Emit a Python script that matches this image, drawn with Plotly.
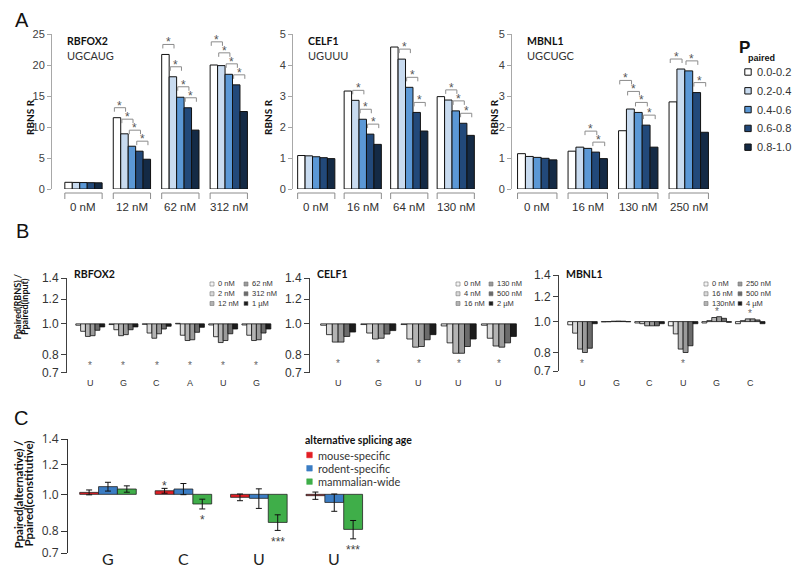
import math
import plotly.graph_objects as go

W, H = 800, 574

# ======================= DATA =======================
P_BINS = ["0.0-0.2", "0.2-0.4", "0.4-0.6", "0.6-0.8", "0.8-1.0"]

# Panel A : RBNS R per concentration (rows) and P_paired bin (columns)
RBFOX2_CONC = ["0 nM", "12 nM", "62 nM", "312 nM"]
RBFOX2_R = [
    [1.08, 1.06, 1.04, 1.02, 1.00],
    [11.5, 8.9, 6.9, 6.1, 4.8],
    [21.7, 18.1, 14.8, 13.1, 9.5],
    [20.0, 19.9, 18.5, 16.8, 12.5],
]
RBFOX2_SIG = [(1, 0), (1, 1), (1, 2), (1, 3), (2, 0), (2, 1), (2, 2), (2, 3),
              (3, 0), (3, 1), (3, 2), (3, 3)]

CELF1_CONC = ["0 nM", "16 nM", "64 nM", "130 nM"]
CELF1_R = [
    [1.08, 1.07, 1.04, 1.01, 0.98],
    [3.16, 2.86, 2.25, 1.77, 1.44],
    [4.58, 4.19, 3.28, 2.47, 1.87],
    [2.98, 2.87, 2.52, 2.12, 1.73],
]
CELF1_SIG = [(1, 1), (1, 2), (1, 3), (2, 1), (2, 2), (2, 3), (3, 1), (3, 2), (3, 3)]

MBNL1_CONC = ["0 nM", "16 nM", "130 nM", "250 nM"]
MBNL1_R = [
    [1.14, 1.05, 1.02, 0.99, 0.94],
    [1.22, 1.35, 1.31, 1.19, 0.98],
    [1.88, 2.58, 2.47, 2.06, 1.35],
    [2.81, 3.87, 3.81, 3.11, 1.83],
]
MBNL1_SIG = [(1, 2), (1, 3), (2, 0), (2, 1), (2, 2), (2, 3), (3, 0), (3, 2), (3, 3)]

A_TICKS_RBFOX2 = [0, 5, 10, 15, 20, 25]
A_TICKS_SMALL = [0, 1, 2, 3, 4, 5]

# Panel B : Ppaired(RBNS)/Ppaired(input), rows = motif position, cols = concentration
RBFOX2_B_CONC = ["0 nM", "2 nM", "12 nM", "62 nM", "312 nM", "1 µM"]
RBFOX2_B_POS = ["U", "G", "C", "A", "U", "G"]
RBFOX2_B = [
    [0.990, 0.947, 0.912, 0.917, 0.954, 0.978],
    [0.995, 0.958, 0.917, 0.924, 0.958, 0.978],
    [0.997, 0.935, 0.900, 0.930, 0.963, 0.983],
    [1.004, 0.920, 0.885, 0.890, 0.940, 0.975],
    [0.992, 0.910, 0.872, 0.885, 0.930, 0.963],
    [0.992, 0.920, 0.885, 0.890, 0.935, 0.963],
]
RBFOX2_B_SIG = ["below", "below", "below", "below", "below", "below"]

CELF1_B_CONC = ["0 nM", "4 nM", "16 nM", "130 nM", "500 nM", "2 µM"]
CELF1_B_POS = ["U", "G", "U", "U", "U"]
CELF1_B = [
    [0.990, 0.924, 0.875, 0.875, 0.912, 0.942],
    [0.995, 0.935, 0.895, 0.900, 0.928, 0.952],
    [0.995, 0.895, 0.843, 0.847, 0.890, 0.924],
    [0.985, 0.870, 0.806, 0.806, 0.847, 0.895],
    [0.990, 0.900, 0.850, 0.843, 0.870, 0.912],
]
CELF1_B_SIG = ["below", "below", "below", "below", "below"]

MBNL1_B_CONC = ["0 nM", "16 nM", "130nM", "250 nM", "500 nM", "4 µM"]
MBNL1_B_POS = ["U", "G", "C", "U", "G", "C"]
MBNL1_B = [
    [0.977, 0.920, 0.820, 0.800, 0.825, 0.985],
    [0.998, 0.999, 1.003, 1.004, 1.003, 0.999],
    [0.990, 0.985, 0.970, 0.970, 0.970, 0.985],
    [0.970, 0.915, 0.820, 0.800, 0.840, 0.985],
    [0.990, 1.007, 1.030, 1.036, 1.024, 0.995],
    [0.985, 1.007, 1.020, 1.020, 1.012, 0.985],
]
MBNL1_B_SIG = ["below", "", "", "below", "above", "above"]

B_TICKS = [0.7, 0.8, 1.0, 1.2, 1.4]
B_TICKTEXT = ["0.7", "0.8", "1.0", "1.2", "1.4"]

# Panel C : Ppaired(alternative)/Ppaired(constitutive)
C_POS = ["G", "C", "U", "U"]
C_SERIES = ["mouse-specific", "rodent-specific", "mammalian-wide"]
C_MOUSE = [1.012, 1.022, 0.982, 0.992]
C_MOUSE_ERR = [0.015, 0.015, 0.020, 0.022]
C_RODENT = [1.048, 1.033, 0.976, 0.952]
C_RODENT_ERR = [0.028, 0.035, 0.058, 0.050]
C_MAMMAL = [1.033, 0.943, 0.843, 0.808]
C_MAMMAL_ERR = [0.020, 0.028, 0.040, 0.045]
C_SIG = [(1, 0, "*"), (1, 2, "*"), (2, 2, "***"), (3, 2, "***")]

# ======================= STYLE =======================
A_COLORS = ["#ffffff", "#c8dbf0", "#5b98d6", "#22497a", "#142a45"]
B_COLORS = ["#f4f4f4", "#d9d9d9", "#b3b3b3", "#9a9a9a", "#6b6b6b", "#1c1c1c"]
C_COLORS = ["#e31e24", "#3b7dc4", "#3fae49"]
SANS = "Liberation Sans, Arial, sans-serif"
HUM = "Lato, Open Sans, sans-serif"
PAGE_OFFSET = 8  # default page body margin around the plot div

fig = go.Figure()
LAYOUT = {}
ANN = []
SHAPES = []


def fx(px):
    return (px - PAGE_OFFSET) / W


def fy(py):
    return 1.0 - (py - PAGE_OFFSET) / H


def make_axes(k, xpx, ypx, xr, yr, log=False, tickvals=None, ticktext=None,
              linecolor="#999", tickfont=None, ticklen=4):
    s = "" if k == 1 else str(k)
    yr_int = [math.log10(yr[0]), math.log10(yr[1])] if log else list(yr)
    LAYOUT["xaxis" + s] = dict(domain=[fx(xpx[0]), fx(xpx[1])], range=list(xr),
                               anchor="y" + s, visible=False, fixedrange=True,
                               automargin=False)
    LAYOUT["yaxis" + s] = dict(domain=[fy(ypx[1]), fy(ypx[0])], range=yr_int,
                               type="log" if log else "linear", anchor="x" + s,
                               showline=True, linecolor=linecolor, linewidth=1,
                               ticks="outside", ticklen=ticklen, tickcolor=linecolor,
                               tickwidth=1, tickvals=tickvals, ticktext=ticktext,
                               tickfont=tickfont, showgrid=False, zeroline=False,
                               fixedrange=True, automargin=False)
    return dict(x="x" + s, y="y" + s, xl=xpx[0], xrp=xpx[1], xr=list(xr),
                yt=ypx[0], yb=ypx[1], yr=yr_int, log=log)


def x2px(x, ax):
    return ax["xl"] + (x - ax["xr"][0]) / (ax["xr"][1] - ax["xr"][0]) * (ax["xrp"] - ax["xl"])


def y2px(v, ax):
    t = math.log10(v) if ax["log"] else v
    r0, r1 = ax["yr"]
    return ax["yb"] - (t - r0) / (r1 - r0) * (ax["yb"] - ax["yt"])


def px2y(py, ax):
    r0, r1 = ax["yr"]
    t = r0 + (ax["yb"] - py) / (ax["yb"] - ax["yt"]) * (r1 - r0)
    return 10 ** t if ax["log"] else t


def text(px, py, s, size, family=SANS, color="#222", bold=False, xanchor="center",
         yanchor="middle", angle=0, align="center"):
    ANN.append(dict(x=fx(px), y=fy(py), xref="paper", yref="paper",
                    text=("<b>%s</b>" % s) if bold else s, showarrow=False,
                    xanchor=xanchor, yanchor=yanchor, textangle=angle, align=align,
                    font=dict(size=size, family=family, color=color)))


def center(n, gw, g, j):
    return g - gw / 2 + gw / n * (j + 0.5)


def square(cx, cy, half, color, line="#222", lw=0.8):
    SHAPES.append(dict(type="rect", xref="paper", yref="paper",
                       x0=fx(cx - half), x1=fx(cx + half), y0=fy(cy + half), y1=fy(cy - half),
                       fillcolor=color, line=dict(color=line, width=lw), layer="above"))


# ======================= PANEL A =======================
def panel_a(k, xpx, xr, yr, ticks, conc, vals, sig, name, motif, gw, ylab_x):
    ax = make_axes(k, xpx, (34, 189), xr, yr, tickvals=ticks, ticktext=[str(t) for t in ticks],
                   linecolor="#a8a8a8",
                   tickfont=dict(family=SANS, size=11, color="#404040"), ticklen=4)
    n = len(P_BINS)
    w = gw / n
    for j in range(n):
        fig.add_trace(go.Bar(
            x=[center(n, gw, g, j) for g in range(len(conc))],
            y=[vals[g][j] for g in range(len(conc))],
            width=w, name=P_BINS[j], xaxis=ax["x"], yaxis=ax["y"], hoverinfo="skip",
            marker=dict(color=A_COLORS[j], line=dict(color="#111111", width=1))))
    # concentration brackets + labels
    for g, lab in enumerate(conc):
        x0 = fx(x2px(g - gw / 2, ax))
        x1 = fx(x2px(g + gw / 2, ax))
        SHAPES.append(dict(type="path", xref="paper", yref="paper",
                           path="M %f,%f L %f,%f L %f,%f L %f,%f" % (
                               x0, fy(199), x0, fy(193), x1, fy(193), x1, fy(199)),
                           line=dict(color="#8c8c8c", width=1)))
        text(x2px(g, ax), 206.5, lab, 11.5, color="#303030")
    # significance brackets
    groups = {}
    for g, i in sig:
        groups.setdefault(g, []).append(i)
    bx, by = [], []
    for g, idxs in groups.items():
        ypx = {}
        for i in sorted(idxs, reverse=True):
            top = min(y2px(vals[g][i], ax), y2px(vals[g][i + 1], ax))
            yy = top - 10
            if (i + 1) in ypx:
                yy = min(yy, ypx[i + 1] - 11)
            ypx[i] = yy
            xa = center(n, gw, g, i) - 0.35 * w
            xb = center(n, gw, g, i + 1) + 0.15 * w
            yl = px2y(yy, ax)
            yleg = px2y(yy + 4, ax)
            bx += [xa, xa, xb, xb, None]
            by += [yleg, yl, yl, yleg, None]
            ANN.append(dict(x=(xa + xb) / 2, y=px2y(yy - 2, ax), xref=ax["x"], yref=ax["y"],
                            text="*", showarrow=False, xanchor="center", yanchor="middle",
                            font=dict(size=12, family=SANS, color="#555")))
    fig.add_trace(go.Scatter(x=bx, y=by, mode="lines", xaxis=ax["x"], yaxis=ax["y"],
                             line=dict(color="#8c8c8c", width=1), hoverinfo="skip"))
    # names
    text(xpx[0] + 13, 41, name, 10.5, family=HUM, bold=True, xanchor="left", color="#111")
    text(xpx[0] + 13, 56, motif, 11, family=HUM, xanchor="left", color="#333")
    text(ylab_x, 117, "RBNS R", 10, family=HUM, bold=True, angle=-90, color="#111")
    return ax


panel_a(1, (52, 253), (-0.65, 3.5), (0, 25), A_TICKS_RBFOX2, RBFOX2_CONC, RBFOX2_R,
        RBFOX2_SIG, "RBFOX2", "UGCAUG", 0.77, 30)
panel_a(2, (293, 479), (-0.5, 3.5), (0, 5), A_TICKS_SMALL, CELF1_CONC, CELF1_R,
        CELF1_SIG, "CELF1", "UGUUU", 0.8, 268)
panel_a(3, (512, 714), (-0.5, 3.5), (0, 5), A_TICKS_SMALL, MBNL1_CONC, MBNL1_R,
        MBNL1_SIG, "MBNL1", "UGCUGC", 0.78, 494)

# legend A
text(737, 48, "P", 17, bold=True, xanchor="left", color="#111")
text(746, 58, "paired", 9, bold=True, xanchor="left", color="#111")
for j, lab in enumerate(P_BINS):
    yy = 72 + j * 18.8
    square(748, yy, 3.2, A_COLORS[j], line="#111", lw=1)
    text(755, yy, lab, 11, xanchor="left", color="#333")


# ======================= PANEL B =======================
B_LEG_FONT = 7.5
B_LEG_STEP = B_LEG_FONT * 1.3  # plotly multi-line spacing


def panel_b(k, xpx, ypx, xr, conc, pos, vals, sig, name, gw, leg_x, star_py):
    ax = make_axes(k, xpx, ypx, xr, (0.7, 1.4), log=True, tickvals=B_TICKS,
                   ticktext=B_TICKTEXT, linecolor="#404040",
                   tickfont=dict(family=SANS, size=12, color="#333"), ticklen=5)
    n = len(conc)
    w = gw / n
    for j in range(n):
        fig.add_trace(go.Bar(
            x=[center(n, gw, g, j) for g in range(len(pos))],
            y=[vals[g][j] - 1.0 for g in range(len(pos))], base=1.0,
            width=w, name=conc[j], xaxis=ax["x"], yaxis=ax["y"], hoverinfo="skip",
            marker=dict(color=B_COLORS[j], line=dict(color="#111111", width=0.8))))
    for g, lab in enumerate(pos):
        text(x2px(g, ax), 383, lab, 9, color="#333")
        if sig[g] == "below":
            text(x2px(g, ax), star_py + 3, "*", 10, color="#666")
        elif sig[g] == "above":
            top = min(y2px(v, ax) for v in vals[g])
            text(x2px(g, ax), top - 8 + 3, "*", 10, color="#666")
    text(xpx[0] + 5, 274, name, 10.5, family=HUM, bold=True, xanchor="left", color="#111")
    # legend (two columns of three)
    for col in range(2):
        labs = conc[col * 3:(col + 1) * 3]
        cx = leg_x[col]
        for row in range(len(labs)):
            square(cx, 284 + row * B_LEG_STEP, 2.0, B_COLORS[col * 3 + row], line="#777", lw=0.6)
        text(cx + 3.5, 284 + B_LEG_STEP, "<br>".join(labs), B_LEG_FONT,
             xanchor="left", color="#333", align="left")
    return ax


panel_b(4, (67, 273), (278, 372.5), (-0.7, 5.5), RBFOX2_B_CONC, RBFOX2_B_POS, RBFOX2_B,
        RBFOX2_B_SIG, "RBFOX2", 0.87, (212, 246), 362)
panel_b(5, (310, 519), (278, 372.5), (-0.7, 4.5), CELF1_B_CONC, CELF1_B_POS, CELF1_B,
        CELF1_B_SIG, "CELF1", 0.87, (458, 491), 360)
panel_b(6, (559, 767), (275, 371), (-0.7, 5.5), MBNL1_B_CONC, MBNL1_B_POS, MBNL1_B,
        MBNL1_B_SIG, "MBNL1", 0.88, (706, 740), 360)

text(16.5, 307, "Ppaired(RBNS) /", 9, family=HUM, bold=True, angle=-90, color="#111")
text(24, 307, "Ppaired(input)", 9, family=HUM, bold=True, angle=-90, color="#111")

# ======================= PANEL C =======================
axc = make_axes(7, (68, 372), (439, 553), (-0.53, 3.5), (0.7, 1.4), log=True,
                tickvals=B_TICKS, ticktext=B_TICKTEXT, linecolor="#333",
                tickfont=dict(family="Open Sans, sans-serif", size=12, color="#333"), ticklen=6)
c_vals = [C_MOUSE, C_RODENT, C_MAMMAL]
c_errs = [C_MOUSE_ERR, C_RODENT_ERR, C_MAMMAL_ERR]
gwc = 0.75
for j in range(3):
    fig.add_trace(go.Bar(
        x=[center(3, gwc, g, j) for g in range(len(C_POS))],
        y=[v - 1.0 for v in c_vals[j]], base=1.0, width=gwc / 3, name=C_SERIES[j],
        xaxis=axc["x"], yaxis=axc["y"], hoverinfo="skip",
        marker=dict(color=C_COLORS[j], line=dict(color="#222", width=0.8)),
        error_y=dict(type="data", array=c_errs[j], color="#111", thickness=1, width=3)))
for g, lab in enumerate(C_POS):
    text(x2px(g, axc), 558, lab, 16, family=HUM, color="#222")
for g, j, s in C_SIG:
    v = c_vals[j][g]
    e = c_errs[j][g]
    xx = x2px(center(3, gwc, g, j), axc)
    if v >= 1:
        py = y2px(v + e, axc) - 6
    else:
        py = y2px(v - e, axc) + 8
    text(xx, py + 3.5, s, 12, color="#444")

text(17.5, 494, "Ppaired(alternative) /", 11.5, family=HUM, bold=True, angle=-90, color="#111")
text(27.5, 494, "Ppaired(constitutive)", 11.5, family=HUM, bold=True, angle=-90, color="#111")

# legend C
text(303, 440, "alternative splicing age", 10.5, family=HUM, bold=True, xanchor="left", color="#111")
for j, lab in enumerate(C_SERIES):
    cy = 455 + j * 13.3
    square(309.5, cy, 2.8, C_COLORS[j], line=C_COLORS[j], lw=0.5)
    text(316, cy, lab, 11, family=HUM, xanchor="left", color="#333")

# panel letters
text(22, 20, "A", 20, color="#111")
text(22, 231, "B", 20, color="#111")
text(21, 418, "C", 20, color="#111")

fig.update_layout(
    template="none",
    width=W, height=H, margin=dict(l=0, r=0, t=0, b=0, pad=0, autoexpand=False),
    paper_bgcolor="white", plot_bgcolor="rgba(0,0,0,0)",
    showlegend=False, barmode="overlay",
    annotations=ANN, shapes=SHAPES, **LAYOUT)

fig.write_html("out.html")
